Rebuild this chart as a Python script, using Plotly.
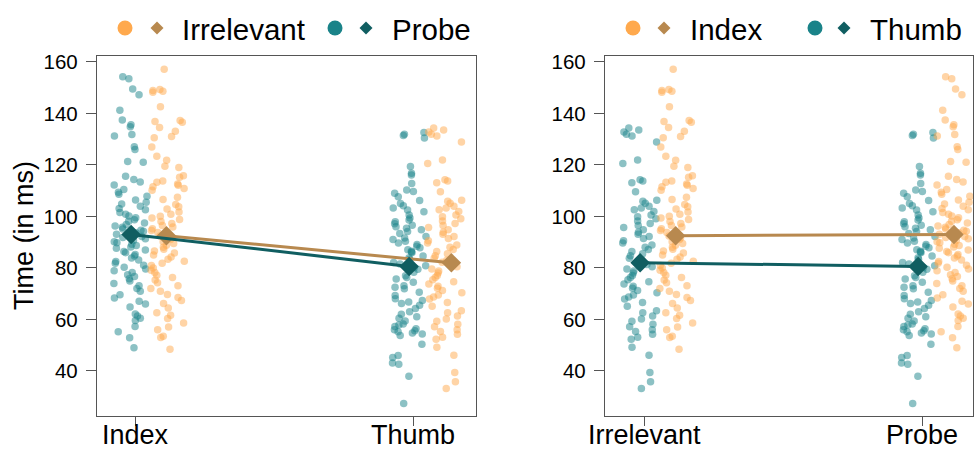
import numpy as np
import plotly.graph_objects as go

W, H = 974, 451

# ---------------- data ----------------
left_categories = ["Index", "Thumb"]
right_categories = ["Irrelevant", "Probe"]
left_series = ["Irrelevant", "Probe"]
right_series = ["Index", "Thumb"]
y_ticks = [40, 60, 80, 100, 120, 140, 160]

index_irrelevant = [157.2, 149.3, 148.9, 148.6, 148.2, 142.6, 137.3, 136.9, 136.6, 134.5, 133.1, 131.0,
                    130.6, 127.0, 123.4, 121.8, 119.5, 119.0, 115.8, 115.2, 113.8, 113.3, 112.6, 112.1,
                    111.5, 110.8, 110.2, 107.4, 106.6, 104.6, 103.8, 102.9, 101.7, 100.8, 100.1, 99.4,
                    98.8, 98.0, 97.3, 96.5, 95.9, 95.2, 94.5, 93.8, 93.1, 92.4, 91.7, 91.0, 90.2, 89.5,
                    88.8, 88.0, 87.3, 86.6, 85.8, 85.0, 84.2, 83.4, 82.6, 81.8, 80.9, 80.0, 79.1, 78.2,
                    77.2, 76.3, 75.3, 74.2, 73.1, 72.0, 70.9, 69.7, 68.5, 67.4, 66.2, 64.4, 62.6, 61.6,
                    60.4, 58.6, 57.1, 56.0, 53.5, 53.0, 48.4]
index_probe = [154.2, 153.5, 149.5, 147.3, 141.2, 137.4, 135.6, 134.8, 131.8, 131.2, 127.1, 126.0,
               121.3, 121.0, 115.6, 114.3, 113.4, 112.2, 110.5, 109.4, 108.6, 107.8, 106.4, 105.5,
               104.8, 104.0, 103.1, 102.6, 101.5, 100.8, 100.2, 99.5, 98.7, 98.1, 97.4, 96.9, 96.3,
               95.8, 95.1, 94.6, 94.2, 93.7, 93.1, 92.6, 92.2, 91.8, 91.3, 90.7, 90.2, 89.8, 89.2,
               88.7, 88.1, 87.6, 87.0, 86.4, 85.9, 85.2, 84.6, 83.9, 83.1, 82.5, 81.8, 81.0, 80.3,
               79.6, 78.9, 78.2, 77.4, 76.7, 75.8, 74.9, 74.0, 73.1, 72.0, 70.9, 69.6, 68.3, 67.1,
               66.0, 64.8, 62.1, 61.3, 60.5, 59.6, 57.3, 55.2, 52.9, 49.0]
thumb_irrelevant = [134.3, 133.6, 132.8, 131.9, 131.2, 128.9, 121.9, 120.6, 114.2, 113.8, 113.1, 109.6,
                    106.3, 105.9, 105.1, 104.0, 103.3, 102.6, 101.9, 100.6, 99.9, 99.1, 98.2, 97.3,
                    96.5, 95.7, 94.8, 93.9, 93.1, 92.2, 91.4, 90.6, 89.7, 88.9, 88.0, 87.2, 86.4, 85.5,
                    84.7, 83.8, 83.0, 82.2, 81.3, 80.5, 79.6, 78.8, 78.0, 77.1, 76.3, 75.4, 74.6, 73.8,
                    72.9, 72.1, 71.2, 70.4, 69.5, 68.7, 67.9, 66.6, 65.1, 63.4, 62.6, 61.3, 60.2, 59.3,
                    58.1, 57.2, 56.0, 55.3, 54.2, 53.1, 52.3, 49.2, 46.1, 39.4, 35.8, 33.2]
thumb_probe = [132.6, 131.9, 131.4, 130.5, 119.4, 116.8, 116.1, 112.8, 110.3, 109.7, 109.0, 107.6,
               106.2, 105.0, 104.1, 103.3, 102.5, 101.8, 100.6, 99.4, 98.6, 97.9, 97.2, 96.6, 96.0,
               95.4, 94.8, 94.1, 93.4, 92.2, 91.6, 91.0, 90.4, 89.7, 89.1, 88.4, 87.8, 87.1, 86.5,
               86.2, 85.9, 84.6, 84.0, 83.4, 82.1, 81.5, 80.8, 80.2, 79.5, 78.3, 77.0, 76.3, 75.7,
               74.4, 73.1, 72.5, 71.9, 70.6, 69.3, 68.0, 67.4, 66.8, 66.2, 65.5, 64.2, 63.0, 62.0,
               61.0, 60.5, 59.4, 58.2, 57.8, 57.3, 56.4, 56.0, 55.6, 55.2, 54.7, 54.3, 53.8, 50.4,
               46.0, 45.2, 43.1, 42.6, 37.9, 27.4]

# group means (diamonds)
mean_index_irrelevant = 92.5
mean_index_probe = 93.0
mean_thumb_irrelevant = 82.0
mean_thumb_probe = 80.6

# ---------------- styles ----------------
ORANGE = "#FFA94D"
TEAL = "#1A8389"
BROWN = "#B8894F"
DTEAL = "#105E61"
AXC = "#555555"
FONT = "Liberation Sans, Arial, sans-serif"

OFF_TEAL = -0.014
OFF_ORANGE = 0.115
JW = 0.125


def jit(n, seed):
    i = np.arange(n) + 1.0
    v = np.abs(np.sin(i * 12.9898 + seed * 78.233)) * 43758.5453
    return (v - np.floor(v)) - 0.5


def pts(vals, cat, off, seed):
    v = np.asarray(vals, dtype=float)
    return cat + off + JW * jit(len(v), seed), v


fig = go.Figure()


def add_points(xa, ya, groups, color):
    xs, ys = [], []
    for vals, cat, off, seed in groups:
        x, y = pts(vals, cat, off, seed)
        xs.append(x)
        ys.append(y)
    fig.add_trace(go.Scatter(
        x=np.concatenate(xs), y=np.concatenate(ys), mode="markers",
        xaxis=xa, yaxis=ya, showlegend=False, hoverinfo="skip",
        marker=dict(size=7.5, color=color, opacity=0.5, line=dict(width=0))))


def add_means(xa, ya, xs, ys, lcolor, mcolor):
    fig.add_trace(go.Scatter(
        x=xs, y=ys, mode="lines+markers", xaxis=xa, yaxis=ya, showlegend=False,
        line=dict(color=lcolor, width=3),
        marker=dict(symbol="diamond", size=15, color=mcolor, line=dict(width=0))))


# left panel: x = finger, colour = stimulus
add_points("x", "y", [(index_probe, 1, OFF_TEAL, 1), (thumb_probe, 2, OFF_TEAL, 2)], TEAL)
add_points("x", "y", [(index_irrelevant, 1, OFF_ORANGE, 3), (thumb_irrelevant, 2, OFF_ORANGE, 4)], ORANGE)
add_means("x", "y", [1 + 0.113, 2 + 0.138], [mean_index_irrelevant, mean_thumb_irrelevant], BROWN, BROWN)
add_means("x", "y", [1 + OFF_TEAL, 2 + OFF_TEAL], [mean_index_probe, mean_thumb_probe], DTEAL, DTEAL)

# right panel: x = stimulus, colour = finger
add_points("x2", "y2", [(thumb_irrelevant, 1, OFF_TEAL, 4), (thumb_probe, 2, OFF_TEAL, 2)], TEAL)
add_points("x2", "y2", [(index_irrelevant, 1, OFF_ORANGE, 3), (index_probe, 2, OFF_ORANGE, 1)], ORANGE)
add_means("x2", "y2", [1 + 0.114, 2 + 0.115], [mean_index_irrelevant, mean_index_probe], BROWN, BROWN)
add_means("x2", "y2", [1 + OFF_TEAL, 2 + OFF_TEAL], [mean_thumb_irrelevant, mean_thumb_probe], DTEAL, DTEAL)


def px(x):
    return x / W


def py(y):
    return 1 - y / H


TOP, BOT = 56, 416
ydom = [py(BOT), py(TOP)]
yrange = [22.5, 162.3]

common_x = dict(showgrid=False, zeroline=False, showline=True, linecolor=AXC, linewidth=1.3,
                mirror=True, ticks="outside", ticklen=9, tickcolor=AXC, tickwidth=1.3,
                automargin=False, tickvals=[1, 2], showticklabels=False)
common_y = dict(showgrid=False, zeroline=False, showline=True, linecolor=AXC, linewidth=1.3,
                mirror=True, ticks="outside", ticklen=10, tickcolor=AXC, tickwidth=1.3,
                automargin=False, tickvals=y_ticks, range=yrange, domain=ydom,
                ticklabelstandoff=4,
                tickfont=dict(family=FONT, size=20.5, color="black"))

fig.update_layout(
    width=W, height=H, margin=dict(l=0, r=0, t=0, b=0, autoexpand=False),
    paper_bgcolor="white", plot_bgcolor="white", showlegend=False,
    xaxis=dict(domain=[px(97), px(476)], range=[0.8633, 0.8633 + 379 / 278],
               anchor="y", **common_x),
    yaxis=dict(anchor="x", **common_y),
    xaxis2=dict(domain=[px(605), px(973)], range=[0.8597, 0.8597 + 368 / 278],
                anchor="y2", **common_x),
    yaxis2=dict(anchor="x2", **common_y),
)

# category labels under each panel (positioned on the data axis)
for xa, cats in (("x", left_categories), ("x2", right_categories)):
    for k, c in enumerate(cats):
        fig.add_annotation(text=c, xref=xa, yref="paper", x=k + 1, y=0,
                           xanchor="center", yanchor="bottom", showarrow=False,
                           borderpad=0, font=dict(family=FONT, size=27, color="black"))

# y title
fig.add_annotation(text="Time (in ms)", xref="paper", yref="paper", x=px(24), y=py(236),
                   xanchor="center", yanchor="middle", textangle=-90, showarrow=False,
                   font=dict(family=FONT, size=27, color="black"))


# legends (drawn manually: circle + diamond + label)
def legend_item(cx_circle, cx_diamond, x_text, label, ccol, dcol, yc=28):
    r = 7.5
    fig.add_shape(type="circle", xref="paper", yref="paper",
                  x0=px(cx_circle - r), x1=px(cx_circle + r), y0=py(yc + r), y1=py(yc - r),
                  fillcolor=ccol, line=dict(width=0))
    d = 6.5
    path = "M {} {} L {} {} L {} {} L {} {} Z".format(
        px(cx_diamond - d), py(yc), px(cx_diamond), py(yc - d),
        px(cx_diamond + d), py(yc), px(cx_diamond), py(yc + d))
    fig.add_shape(type="path", xref="paper", yref="paper", path=path,
                  fillcolor=dcol, line=dict(width=0))
    fig.add_annotation(text=label, xref="paper", yref="paper", x=px(x_text), y=py(yc + 1),
                       xanchor="left", yanchor="middle", showarrow=False,
                       font=dict(family=FONT, size=29.5, color="black"))


legend_item(125, 157, 180, left_series[0], ORANGE, BROWN)
legend_item(335, 366, 390, left_series[1], TEAL, DTEAL)
legend_item(633, 664, 688, right_series[0], ORANGE, BROWN)
legend_item(815, 844, 868, right_series[1], TEAL, DTEAL)

fig.write_html("out.html")
